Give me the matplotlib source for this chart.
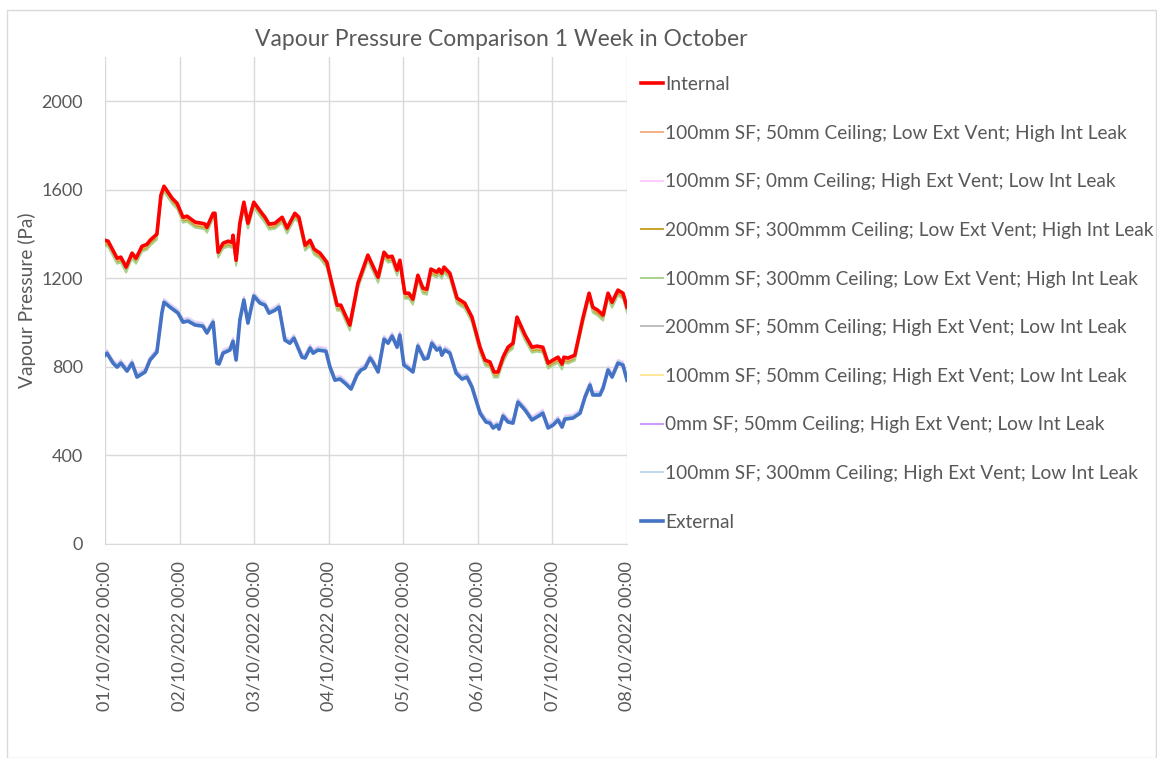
import matplotlib
matplotlib.use('Agg')
import matplotlib.pyplot as plt
from matplotlib.patches import Rectangle

plt.rcParams['font.family'] = ['Lato', 'DejaVu Sans']

# hours from 01/10/2022 00:00
int_hours = [0, 1, 3.9, 5.1, 6.8, 8.7, 10, 11.9, 13.5, 14.5, 16.7, 18, 19, 20.3, 21.6, 23.2,
             25.1, 26.4, 29, 31.2, 32.2, 32.8, 34.8, 35.4, 36.4, 38, 39.6, 40.9, 41.2, 42.2,
             43.4, 44.7, 46, 47.9, 50.5, 51.5, 52.8, 54.7, 57, 58.6, 61.1, 62.4, 64.4, 66,
             67.3, 69.2, 71.4, 73, 74.7, 75.9, 78.8, 81.4, 84.6, 87.9, 89.8, 91.1, 92.4, 94,
             94.9, 96.5, 97.8, 99.1, 100.7, 102.3, 103.6, 104.9, 106.8, 107.5, 108.4, 109.1,
             111, 113.3, 115.8, 118.1, 120.7, 122.3, 123.9, 125.2, 126.5, 128.1, 129.7, 131.3,
             132.6, 135.2, 137.4, 139, 140.9, 142.6, 144.2, 145.8, 147.1, 147.7, 149, 151.2,
             153.8, 155.8, 157, 158.6, 160.3, 161.9, 163.2, 165.1, 166.7, 168]
internal = [1372, 1368, 1291, 1296, 1251, 1314, 1291, 1345, 1354, 1372, 1400, 1576, 1616, 1589, 1562, 1539,
            1476, 1481, 1454, 1449, 1445, 1431, 1494, 1494, 1318, 1359, 1368, 1363, 1395, 1282,
            1449, 1544, 1449, 1544, 1494, 1476, 1445, 1449, 1476, 1427, 1494, 1476, 1350, 1372,
            1332, 1314, 1273, 1178, 1079, 1079, 989, 1178, 1305, 1205, 1318, 1296, 1300, 1237,
            1282, 1133, 1133, 1106, 1214, 1156, 1151, 1242, 1228, 1242, 1223, 1251,
            1223, 1111, 1088, 1025, 889, 831, 822, 777, 777, 844, 889, 907,
            1025, 944, 889, 894, 889, 817, 831, 844, 813, 844, 840, 853,
            1020, 1133, 1070, 1056, 1034, 1133, 1092, 1147, 1133, 1070]

ext_hours = [0, 0.6, 2.6, 3.9, 5.1, 7.1, 8.7, 10.3, 12.9, 14.5, 16.7, 18.3, 19, 20.9, 23.5, 25.1,
             26.7, 29, 31.5, 32.8, 34.8, 36, 36.7, 38, 40.2, 41.2, 42.2, 43.4, 44.7, 46, 47.9,
             49.9, 51.5, 52.8, 54.7, 56, 57.9, 59.5, 60.8, 63.4, 64.4, 66, 67, 68.5, 71.1, 72.4,
             74, 75.6, 77.2, 79.2, 81.1, 82.4, 83.7, 85.3, 86.2, 87.9, 89.8, 91.1, 92.4, 94, 94.9,
             96.2, 97.5, 99.1, 100.7, 102.7, 103.9, 105.2, 106.8, 107.8, 108.4, 109.4, 111, 113,
             114.9, 116.5, 118.1, 120.7, 122.6, 123.9, 124.9, 126.2, 126.8, 128.1, 129.7, 131.3,
             132.9, 135.2, 137.4, 140, 140.9, 142.6, 144.2, 145.8, 147.1, 148, 150.6, 152.9, 154.5,
             156.1, 157, 159.3, 160.3, 161.9, 163.2, 165.1, 166.7, 168]
external = [853, 862, 817, 799, 817, 781, 817, 754, 777, 831, 867, 1043, 1092, 1070, 1043, 1002,
            1007, 989, 984, 953, 1002, 817, 813, 862, 876, 916, 831, 1011, 1102, 998, 1120,
            1088, 1079, 1043, 1056, 1070, 921, 907, 930, 844, 840, 885, 862, 876, 871, 799,
            740, 745, 727, 700, 763, 786, 795, 840, 822, 777, 925, 907, 939, 889, 944,
            808, 795, 777, 894, 835, 840, 907, 876, 885, 853, 876, 862, 772,
            745, 754, 709, 591, 551, 546, 524, 537, 519, 578, 551, 546,
            641, 605, 560, 582, 591, 524, 537, 560, 528, 564, 569, 591, 664,
            718, 673, 673, 704, 786, 754, 817, 808, 740]

# scenario traces sit just under Internal (high int leak) or just above External (low int leak)
scenario_labels = ['100mm SF; 50mm Ceiling; Low Ext Vent; High Int Leak',
                   '100mm SF; 0mm Ceiling; High Ext Vent; Low Int Leak',
                   '200mm SF; 300mmm Ceiling; Low Ext Vent; High Int Leak',
                   '100mm SF; 300mm Ceiling; Low Ext Vent; High Int Leak',
                   '200mm SF; 50mm Ceiling; High Ext Vent; Low Int Leak',
                   '100mm SF; 50mm Ceiling; High Ext Vent; Low Int Leak',
                   '0mm SF; 50mm Ceiling; High Ext Vent; Low Int Leak',
                   '100mm SF; 300mm Ceiling; High Ext Vent; Low Int Leak']
scenario_base = ['int', 'ext', 'int', 'int', 'ext', 'ext', 'ext', 'ext']
scenario_offset = [-10, 16, -18, -25, 5, 8, 3, 11]
scenario_colors = ['#F4B183', '#FFCCFF', '#C9A227', '#A9D18E', '#BFBFBF', '#FFE699', '#CC99FF', '#BDD7EE']

day_labels = ['01/10/2022 00:00', '02/10/2022 00:00', '03/10/2022 00:00', '04/10/2022 00:00',
              '05/10/2022 00:00', '06/10/2022 00:00', '07/10/2022 00:00', '08/10/2022 00:00']

W, H = 1157, 758
fig = plt.figure(figsize=(W / 100, H / 100), dpi=100)
fig.patches.append(Rectangle((7 / W, 0), 1 - 7 / W - 1 / W, 1 - 10 / H, transform=fig.transFigure,
                             fill=False, edgecolor='#D9D9D9', linewidth=1))

ax = fig.add_axes([105 / W, 1 - 544 / H, (627 - 105) / W, (544 - 57) / H])

grey = '#595959'
handles = []
h, = ax.plot(int_hours, internal, color='#FF0000', linewidth=2.6, zorder=5)
handles.append(h)
for lab, base, off, col in zip(scenario_labels, scenario_base, scenario_offset, scenario_colors):
    if base == 'int':
        xs, ys = int_hours, [v + off for v in internal]
    else:
        xs, ys = ext_hours, [v + off for v in external]
    h, = ax.plot(xs, ys, color=col, linewidth=1.4, zorder=3)
    handles.append(h)
h, = ax.plot(ext_hours, external, color='#4472C4', linewidth=2.6, zorder=6)
handles.append(h)

ax.set_xlim(0, 168)
ax.set_ylim(0, 2200)
ax.set_yticks([0, 400, 800, 1200, 1600, 2000])
ax.set_xticks(range(0, 169, 24))
ax.set_xticklabels(day_labels, rotation=90, color=grey, fontsize=13)
ax.tick_params(axis='y', labelcolor=grey, labelsize=13, length=0, pad=16)
ax.tick_params(axis='x', length=0, pad=12)
ax.grid(True, color='#D9D9D9', linewidth=1)
ax.set_axisbelow(True)
for s in ax.spines.values():
    s.set_visible(False)
ax.spines['bottom'].set_visible(True)
ax.spines['bottom'].set_color('#D9D9D9')
ax.set_ylabel('Vapour Pressure (Pa)', color=grey, fontsize=13.8, labelpad=4)

fig.text(501 / W, 1 - 39 / H, 'Vapour Pressure Comparison 1 Week in October', ha='center', va='center',
         fontsize=16.5, color=grey)

labels = ['Internal'] + scenario_labels + ['External']
fig.legend(handles, labels, loc='upper left', bbox_to_anchor=(641 / W, 1 - 76 / H), frameon=False,
           fontsize=13.8, handlelength=1.15, handletextpad=0.12, labelspacing=1.65,
           borderaxespad=0, borderpad=0, labelcolor=grey)

fig.savefig('out.png', dpi=100)
